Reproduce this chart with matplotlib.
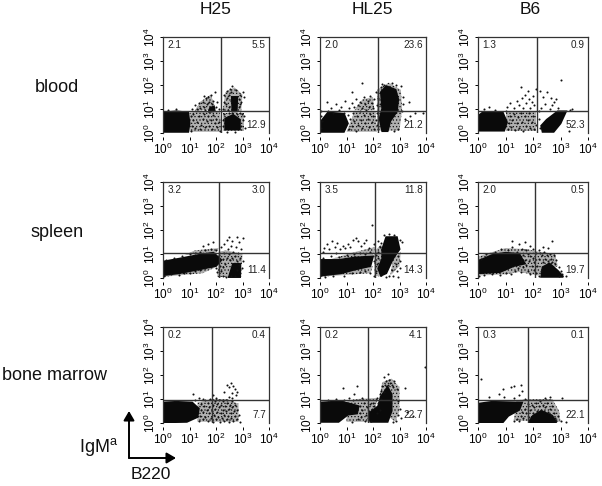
import numpy as np
import matplotlib
matplotlib.use('Agg')
import matplotlib.pyplot as plt

plt.rcParams['font.family'] = ['Liberation Sans', 'DejaVu Sans']
plt.rcParams['mathtext.default'] = 'regular'
plt.rcParams['hatch.linewidth'] = 0.5

W, H = 602, 486

columns = ['H25', 'HL25', 'B6']
rows = ['blood', 'spleen', 'bone marrow']

# percentages per quadrant: upper left, upper right, lower right
blood_pct = [('2.1', '5.5', '12.9'), ('2.0', '23.6', '21.2'), ('1.3', '0.9', '52.3')]
spleen_pct = [('3.2', '3.0', '11.4'), ('3.5', '11.8', '14.3'), ('2.0', '0.5', '19.7')]
marrow_pct = [('0.2', '0.4', '7.7'), ('0.2', '4.1', '22.7'), ('0.3', '0.1', '22.1')]

# quadrant gates, log10 units (B220, IgMa)
blood_gates = [(2.19, 0.92), (2.19, 0.92), (2.15, 0.92)]
spleen_gates = [(2.10, 1.04), (2.08, 1.04), (2.07, 1.04)]
marrow_gates = [(1.85, 0.96), (1.80, 0.96), (1.80, 0.96)]

# saturated black areas read as outlines, log10 units
blood_h25_solid = [
    [(0, .05), (.95, .05), (1, .4), (.95, .85), (.5, .9), (0, .85)],
    [(2.35, .15), (2.9, .15), (2.9, .55), (2.65, .75), (2.35, .6)],
    [(2.62, .9), (2.78, .9), (2.8, 1.5), (2.6, 1.5)],
    [(1.72, .88), (1.95, .92), (1.92, 1.1), (1.78, 1.05)],
]
blood_hl25_solid = [
    [(.05, .05), (.9, .05), (1.05, .4), (.9, .8), (.3, .85), (.05, .5)],
    [(2.35, .08), (2.55, .08), (2.65, .5), (2.9, .9), (2.95, 1.4), (2.85, 1.8), (2.5, 1.95),
     (2.3, 1.7), (2.35, 1), (2.25, .6)],
]
blood_b6_solid = [
    [(0, .1), (.95, .1), (1.05, .45), (.9, .85), (.2, .88), (0, .7)],
    [(2.35, .05), (2.75, .05), (3, .4), (3.2, .9), (2.9, .9), (2.5, .55), (2.3, .3)],
]
spleen_h25_solid = [
    [(0, .12), (.6, .2), (1.3, .35), (2, .5), (2.2, .75), (1.9, 1.05), (1.3, .95),
     (.6, .8), (0, .68)],
    [(2.5, .03), (2.9, .03), (2.9, .6), (2.65, .6)],
]
spleen_hl25_solid = [
    [(0, .1), (.8, .2), (1.3, .35), (1.9, .5), (2, .9), (1.3, .85), (.7, .75), (0, .75)],
    [(2.3, .1), (2.5, .2), (2.75, .8), (3, 1.2), (2.9, 1.7), (2.5, 1.7), (2.35, 1.2),
     (2.35, .8), (2.2, .4)],
]
spleen_b6_solid = [
    [(0, .2), (.8, .25), (1.3, .5), (1.7, .6), (1.5, 1), (1, 1.05), (.5, .95), (0, .7)],
    [(2.3, .05), (3.1, .05), (2.9, .3), (2.6, .6), (2.35, .45)],
]
marrow_h25_solid = [
    [(0, .03), (.9, .05), (1.3, .25), (1.35, .6), (1.1, .85), (.5, .88), (0, .85)],
]
marrow_hl25_solid = [
    [(0, .05), (.7, .05), (1.05, .35), (1.4, .4), (1.45, .7), (.8, .9), (0, .85)],
    [(1.9, .05), (2.55, .05), (2.7, .5), (2.7, 1.2), (2.55, 1.5), (2.3, 1.1), (2.2, .7), (1.85, .4)],
]
marrow_b6_solid = [
    [(0, .03), (.9, .03), (1.1, .3), (1.5, .55), (1.6, .85), (.5, .88), (0, .8)],
    [(1.85, .03), (2.85, .03), (2.7, .3), (2.3, .5), (2, .3)],
]

# speckled, not quite saturated areas read as outlines, log10 units
blood_h25_speckle = [
    [(1, .05), (2.2, .05), (2.15, .9), (1.5, .9), (1, .85)],
    [(1.2, .92), (2, 1), (1.8, 1.6), (1.4, 1.3)],
    [(2.25, .9), (2.95, .9), (3, 1.6), (2.7, 1.9), (2.35, 1.7)],
    [(2.25, .1), (3.05, .1), (3.05, .85), (2.25, .85)],
]
blood_hl25_speckle = [
    [(1, .05), (2.15, .05), (2.1, .9), (1.3, .9)],
    [(1.3, .95), (2.05, .95), (2, 1.5), (1.6, 1.4)],
    [(2.15, .1), (3, .1), (3.1, 1), (3.05, 1.8), (2.6, 2.1), (2.15, 1.8)],
]
blood_b6_speckle = [
    [(1, .1), (2.1, .1), (2.1, .9), (1, .9)],
]
spleen_h25_speckle = [
    [(2.05, .05), (2.95, .05), (3, 1), (2.4, 1.15), (2.1, 1.1)],
    [(0, .05), (1.5, .2), (2, .45), (1.3, .35), (0, .15)],
    [(.8, .95), (2, 1.05), (2.1, 1.25), (1.2, 1.15)],
]
spleen_hl25_speckle = [
    [(0, .05), (1.9, .2), (2, .5), (0, .3)],
    [(.3, .75), (2, .95), (2.1, 1.3), (1.2, 1.05)],
    [(2.05, .1), (2.35, .05), (2.5, 1), (2.3, 1.4), (2.05, 1.1)],
    [(2.65, .1), (3, .5), (3.05, 1.1), (2.75, .8)],
]
spleen_b6_speckle = [
    [(0, .1), (1, .15), (1.5, .25), (2.2, .1), (2.9, .5), (2.8, 1), (2.2, 1.1), (1.8, 1.2),
     (1, 1.25), (0, .9)],
]
marrow_h25_speckle = [
    [(1.3, .05), (2.85, .05), (2.85, .8), (2.4, 1), (1.8, 1), (1.3, .85)],
]
marrow_hl25_speckle = [
    [(1, .05), (1.9, .05), (2.1, .7), (2.2, 1.05), (1.4, 1), (1, .9)],
    [(2.15, .6), (2.85, .05), (3, .5), (3, 1.5), (2.7, 1.85), (2.35, 1.7)],
]
marrow_b6_speckle = [
    [(1.3, .1), (3, .05), (2.95, .5), (2.7, 1), (2, 1), (1.4, .95)],
]

# single events around the black areas, log10 units
blood_h25_dots = [
    (1.05, .1), (1.1, .3), (1.12, .55), (1.05, .7), (1.15, .8), (1.2, .2), (1.3, .45), (1.35, .7),
    (1.4, .15), (1.45, .35), (1.5, .6), (1.55, .8), (1.6, .25), (1.65, .5), (1.7, .7), (1.75, .3),
    (1.8, .55), (1.85, .15), (1.9, .75), (1.95, .4), (2, .6), (2.05, .25), (2.1, .45), (2.15, .1),
    (1.1, 1.0), (1.2, 1.15), (1.3, .98), (1.35, 1.25), (1.4, 1.05), (1.5, 1.3), (1.55, 1.1),
    (1.6, .95), (1.65, 1.2), (1.55, 1.55), (1.62, 1.45), (1.7, 1.5), (1.75, 1.3), (1.8, 1.6),
    (1.85, 1.2), (1.9, 1.35), (2, 1.1), (2.05, 1.3), (1.95, 1.7), (2.1, 1.0), (.2, .97), (.5, 1),
    (2.28, 1.0), (2.3, 1.3), (2.32, 1.6), (2.38, 1.2), (2.4, 1.45), (2.42, 1.75), (2.45, .95),
    (2.48, 1.6), (2.5, 1.1), (2.52, 1.85), (2.55, 1.35), (2.58, 1.7), (2.6, 1.95), (2.85, 1.1),
    (2.88, 1.4), (2.9, 1.2), (2.92, 1.6), (2.95, 1.3), (3, 1.7), (3.05, 1.5), (2.75, 1.8),
    (2.25, .3), (2.28, .55), (2.3, .8), (2.95, .3), (3, .55), (3.05, .7), (3.1, .2), (2.98, .8),
    (2.4, .05), (2.7, .05), (2.8, .8), (2.5, .85), (2.6, .82), (2.9, .85),
]
blood_hl25_dots = [
    (.05, .2), (.08, .5), (.02, .7), (.05, .9), (.3, .9), (.5, .85), (.7, .95), (.9, .85), (1.05, .75),
    (1.1, .15), (1.15, .6), (1.2, .3), (1.25, .85), (1.3, .5), (1.35, .1), (1.4, .7), (1.45, .35),
    (1.5, .9), (1.55, .55), (1.6, .2), (1.65, .75), (1.7, .4), (1.75, .95), (1.8, .6), (1.85, .25),
    (1.9, .8), (1.95, .45), (2, .7), (2.05, .15), (2.1, .55), (2.15, .85), (1.1, 1.05), (1.2, 1.25),
    (1.3, 1.1), (1.35, 1.4), (1.45, 1.15), (1.5, 1.3), (1.6, 1.05), (1.65, 1.5), (1.7, 1.2),
    (1.8, 1.35), (1.85, 1.1), (1.9, 1.55), (1.95, 1.25), (2, 1.05), (2.05, 1.4), (2.1, 1.7),
    (.4, 1.05), (.6, 1.2), (.8, 1.1), (.25, 1.3), (.95, 1.35), (2.15, 1.15), (2.2, 1.45),
    (2.25, 1.2), (2.3, 1.9), (2.35, 2.05), (2.4, 2.02), (2.7, 2.1), (2.85, 2), (3.05, 1.95),
    (3.15, 1.5), (3.12, 1.2), (3.08, .9), (3.35, 1.3), (3.2, .6), (3.4, .7), (2.95, .15), (2.2, .15),
    (2.15, .35), (1.6, 2.1), (1.2, 1.7), (2.8, .1), (3.9, .85), (3.6, .85),
]
blood_b6_dots = [
    (1, .9), (.6, .95), (.2, 1), (.4, 1.1), (1.1, .15), (1.12, .4), (1.15, .7), (1.2, .25),
    (1.25, .55), (1.3, .8), (1.35, .12), (1.4, .4), (1.45, .65), (1.5, .2), (1.55, .85), (1.6, .45),
    (1.65, .1), (1.7, .7), (1.75, .3), (1.8, .55), (1.85, .85), (1.9, .2), (1.95, .45), (2, .7),
    (2.05, .15), (2.1, .35), (1.05, 1.1), (1.15, 1.25), (1.3, 1.05), (1.4, 1.35), (1.5, 1.15),
    (1.6, 1.45), (1.65, 1.05), (1.7, 1.6), (1.75, 1.25), (1.8, 1.75), (1.85, 1.4), (1.9, 1.05),
    (1.95, 1.3), (2, 1.55), (2.05, 1.15), (2.1, 1.85), (2.3, 1.05), (2.45, 1.2), (2.6, 1), (2.7, 1.15),
    (2.25, 1.75), (2.35, 1.5), (2.5, 1.7), (2.65, 1.45), (2.75, 1.3), (2.85, 1.4), (3, 2.2),
    (2.9, 1.05), (2.2, .6), (2.25, .2), (2.2, .9), (3.3, .1), (3.35, .95), (3.4, 1), (1.55, 1.9),
]
spleen_h25_dots = [
    (.05, .1), (.3, .15), (.6, .12), (.8, .2), (1, .22), (1.2, .3), (1.4, .32), (1.6, .4), (1.8, .45),
    (2, .4), (.1, .75), (.4, .85), (.7, .9), (1, 1), (1.2, 1.05), (1.4, 1.1), (1.6, 1.15),
    (1.8, 1.2), (2, 1.15), (2.1, .95), (2.15, .5), (2.05, .25), (2.25, .1), (2.25, .45), (2.28, .8),
    (2.32, 1.05), (2.35, .6), (2.38, .05), (2.42, .85), (2.45, 1.2), (2.48, 1), (2.52, .75),
    (2.55, .1), (2.55, 1.35), (2.6, .85), (2.62, 1.55), (2.65, 1.1), (2.7, .9), (2.72, .1),
    (2.75, 1.3), (2.78, .7), (2.8, .35), (2.82, 1.05), (2.85, .55), (2.88, 1.5), (2.9, .2),
    (2.92, .85), (2.95, 1.2), (2.98, .4), (3, 1.65), (3.02, .7), (2.4, 1.6), (2.5, 1.7), (2.3, 1.4),
    (1.5, 1.35), (1.7, 1.4), (1.9, 1.5), (2.2, 1.3), (2.78, 1.7), (2.1, .1), (2.2, .3),
]
spleen_hl25_dots = [
    (.2, .05), (.5, .08), (.9, .1), (1.2, .2), (1.5, .25), (1.7, .3), (1.9, .2), (.1, .85), (.4, .9),
    (.7, .88), (1, .95), (1.3, 1.0), (1.5, 1.05), (1.7, 1), (1.9, 1.1), (2.05, .1), (2.1, .3),
    (2.15, .6), (2.05, .7), (2.1, .95), (2.2, 1.1), (2.25, 1.3), (2.3, 1.45), (2.2, .85), (.15, 1.25),
    (.25, 1.4), (.35, 1.2), (.45, 1.55), (.55, 1.3), (.65, 1.45), (.75, 1.2), (.85, 1.35), (.95, 1.25),
    (1.05, 1.4), (1.15, 1.3), (1.25, 1.6), (1.35, 1.65), (1.45, 1.55), (1.55, 1.35), (1.65, 1.45),
    (1.75, 1.6), (1.85, 1.25), (1.95, 2.2), (2.2, 1.55), (2.4, 1.8), (2.6, 1.85), (2.8, 1.8), (3, 1.6),
    (3.08, 1.5), (2.95, .9), (2.85, .6), (2.7, .35), (2.6, .1), (2.75, .1), (2.95, .05), (2.9, .3),
    (3, .4), (3, .7), (2.5, .05), (.1, 1.1), (.6, 1.05), (2.05, 1.4),
]
spleen_b6_dots = [
    (.05, .1), (.2, .12), (.5, .15), (.8, .12), (1, .2), (1.2, .15), (1.35, .3), (1.45, .4), (1.55, .25),
    (1.65, .45), (1.75, .55), (1.8, .3), (1.85, .7), (1.9, .15), (1.95, .5), (2, .85), (2.02, .35),
    (1.55, .7), (1.65, .95), (1.7, .75), (1.8, 1), (1.9, .9), (2.05, .65), (2.1, 1.05), (2.12, .2),
    (2.15, .5), (2.2, .8), (2.25, 1.05), (2.28, .3), (2.32, .95), (2.35, .65), (2.4, 1.1), (2.45, .8),
    (2.5, .95), (2.55, .7), (2.6, 1), (2.65, .8), (2.7, .65), (2.75, .95), (2.8, .6), (2.85, .75),
    (2.95, .45), (3.02, .3), (3.05, .15), (3.2, .1), (.3, 1), (.6, 1.1), (.85, 1.2), (1.1, 1.15),
    (1.25, 1.3), (1.4, 1.1), (1.5, 1.4), (1.6, 1.2), (1.7, 1.5), (1.75, 1.15), (1.9, 1.35), (2, 1.2),
    (2.2, 1.15), (2.35, 1.3), (2.55, 1.25), (2.7, 1.55), (1.25, 1.55), (.1, .8), (2.95, .1), (2.2, .1),
]
marrow_h25_dots = [
    (1.35, .1), (1.4, .3), (1.42, .55), (1.45, .8), (1.5, .15), (1.52, .45), (1.55, .7), (1.58, .95),
    (1.6, .25), (1.65, .55), (1.68, .85), (1.7, .1), (1.72, .4), (1.75, .65), (1.78, 1), (1.8, .2),
    (1.85, .5), (1.88, .75), (1.9, .05), (1.92, .35), (1.95, .9), (1.98, .6), (2, .15), (2.02, .45),
    (2.05, .8), (2.08, .25), (2.1, .65), (2.12, .95), (2.15, .05), (2.18, .4), (2.2, .75), (2.22, .2),
    (2.25, .55), (2.28, .9), (2.3, .1), (2.32, .35), (2.35, .7), (2.38, .5), (2.4, .15), (2.42, .85),
    (2.45, .3), (2.48, .6), (2.5, .05), (2.52, .75), (2.55, .4), (2.58, .2), (2.6, .65), (2.62, .9),
    (2.65, .1), (2.68, .5), (2.7, .3), (2.72, .75), (2.78, .15), (2.8, .55), (2.85, .35), (2.9, .05),
    (2.4, .95), (2.3, 1.3), (2.4, 1.6), (2.5, 1.5), (2.55, 1.65), (2.6, 1.25), (2.65, 1.55),
    (2.72, 1.4), (2.5, 1.1), (2.62, 1.05), (2.75, 1.15), (2.8, 1.3), (1.15, 1.2), (1.2, .95),
    (1.35, 1.05), (1.5, 1), (2, 1.05), (1.9, 1.15),
]
marrow_hl25_dots = [
    (1.45, .15), (1.5, .4), (1.52, .7), (1.55, .25), (1.6, .55), (1.65, .85), (1.7, .1), (1.72, .35),
    (1.78, .65), (1.8, .2), (1.85, .5), (1.9, .8), (1.92, .1), (1.95, .6), (2, .85), (2.05, .7),
    (2.1, .95), (2.15, 1.05), (2.2, .85), (2.25, 1.2), (2.3, 1), (2.32, 1.35), (2.35, 1.55),
    (2.4, 1.3), (2.45, 1.6), (2.5, 1.75), (2.55, 1.6), (2.6, 1.8), (2.65, 1.65), (2.7, 1.6), (2.75, 1.5),
    (2.8, 1.75), (2.9, 1.4), (3.2, 1.45), (2.95, .9), (3, .6), (2.95, .35), (3.05, .2), (2.85, .1),
    (2.75, .03), (3.3, .45), (3.5, .3), (.3, .95), (.6, .98), (.9, .95), (1.1, 1.05), (1.25, .95),
    (1.2, .05), (.85, 1.45), (1.4, 1.55), (2.4, 1.9), (2.55, 2.05), (2.15, .4), (2.25, .55), (1.3, 1.2),
    (1.6, 1.05), (3.95, 2.35),
]
marrow_b6_dots = [
    (1.3, .1), (1.4, .15), (1.5, .1), (1.55, .3), (1.6, .45), (1.65, .2), (1.7, .6), (1.75, .4),
    (1.8, .8), (1.85, .25), (1.9, .55), (1.95, .75), (2, .4), (2.05, .65), (2.1, .85), (2.15, .5),
    (2.2, .7), (2.25, .9), (2.3, .55), (2.35, .75), (2.4, .5), (2.45, .65), (2.5, .85), (2.55, .45),
    (2.6, .6), (2.65, .35), (2.7, .7), (2.75, .4), (2.8, .2), (2.85, .1), (2.9, .3), (3, .1),
    (1.3, 1.05), (1.5, 1.15), (1.7, 1), (.9, 1.4), (.75, 1.2), (.95, 1.1), (1.2, 1.5), (2.45, 1.05),
    (3.2, .05), (1.3, 1.55), (1.55, 1.6), (1.6, 1.35), (.1, 1.85), (.4, 1.1), (2.6, 1.1), (3.05, 1.05),
]

solid_panels = [
    [blood_h25_solid, blood_hl25_solid, blood_b6_solid],
    [spleen_h25_solid, spleen_hl25_solid, spleen_b6_solid],
    [marrow_h25_solid, marrow_hl25_solid, marrow_b6_solid],
]
speckle_panels = [
    [blood_h25_speckle, blood_hl25_speckle, blood_b6_speckle],
    [spleen_h25_speckle, spleen_hl25_speckle, spleen_b6_speckle],
    [marrow_h25_speckle, marrow_hl25_speckle, marrow_b6_speckle],
]
dot_panels = [
    [blood_h25_dots, blood_hl25_dots, blood_b6_dots],
    [spleen_h25_dots, spleen_hl25_dots, spleen_b6_dots],
    [marrow_h25_dots, marrow_hl25_dots, marrow_b6_dots],
]
gates = [blood_gates, spleen_gates, marrow_gates]
pcts = [blood_pct, spleen_pct, marrow_pct]

col_left = [163, 320, 478]
col_width = [106, 106, 110]
row_top = [37, 182, 327]
row_height = 96

fig = plt.figure(figsize=(W / 100, H / 100), dpi=100)

for r in range(3):
    for c in range(3):
        ax = fig.add_axes([col_left[c] / W, 1 - (row_top[r] + row_height) / H,
                           col_width[c] / W, row_height / H])
        for shape in speckle_panels[r][c]:
            sx, sy = zip(*shape)
            ax.fill(10 ** np.array(sx), 10 ** np.array(sy), facecolor='#b0b0b0',
                    edgecolor='#111111', hatch='.....', lw=0)
        for shape in solid_panels[r][c]:
            sx, sy = zip(*shape)
            ax.fill(10 ** np.array(sx), 10 ** np.array(sy), color='#0a0a0a', lw=1.4)
        dx, dy = zip(*dot_panels[r][c])
        ax.scatter(10 ** np.array(dx), 10 ** np.array(dy), s=2.2, c='#111111', lw=0, clip_on=False)

        vx, hy = gates[r][c]
        ax.axvline(10 ** vx, color='#333333', lw=1)
        ax.axhline(10 ** hy, color='#333333', lw=1)

        ax.set_xscale('log')
        ax.set_yscale('log')
        ax.set_xlim(1, 1e4)
        ax.set_ylim(1, 1e4)
        ax.set_xticks([1, 10, 100, 1000, 10000])
        ax.set_yticks([1, 10, 100, 1000, 10000])
        ax.tick_params(which='major', length=2.5, width=0.7, labelsize=8.5, pad=1)
        ax.tick_params(which='minor', length=1.5, width=0.6)
        ax.tick_params(axis='y', labelrotation=90)
        for lab in ax.get_yticklabels():
            lab.set_va('center')
        for side in ax.spines.values():
            side.set_linewidth(0.9)
            side.set_color('#333333')
        # the x ticks sit just below the plot with no base line of their own
        ax.spines['bottom'].set_position(('outward', 3))
        ax.spines['bottom'].set_visible(False)

        ul, ur, lr = pcts[r][c]
        ax.text(0.04, 0.915, ul, transform=ax.transAxes, fontsize=7.2, ha='left', va='center', color='#222222')
        ax.text(0.97, 0.915, ur, transform=ax.transAxes, fontsize=7.2, ha='right', va='center', color='#222222')
        ax.text(0.97, 0.08, lr, transform=ax.transAxes, fontsize=7.2, ha='right', va='center', color='#222222')

# titles and row names in picture pixels
def px_text(x, y, s, **kw):
    fig.text(x / W, 1 - y / H, s, ha='center', va='center', color='#111111', **kw)

for x, name in zip([216, 372, 530], columns):
    px_text(x, 10, name, fontsize=12.5)
for (x, y), name in zip([(57, 87), (57, 232), (55, 375)], rows):
    px_text(x, y, name, fontsize=13)

px_text(99, 447, 'IgM$^{a}$', fontsize=13)
px_text(151, 474, 'B220', fontsize=12.5)

# axis key arrows
to_fig = lambda x, y: (x / W, 1 - y / H)
for start, end in [((129, 458), (129, 411)), ((129, 458), (176, 458))]:
    fig.add_artist(matplotlib.patches.FancyArrowPatch(
        to_fig(*start), to_fig(*end), transform=fig.transFigure,
        arrowstyle='-|>,head_length=5.5,head_width=3.2', lw=1.4, color='black',
        shrinkA=0, shrinkB=0))

fig.savefig('out.png', dpi=100)
